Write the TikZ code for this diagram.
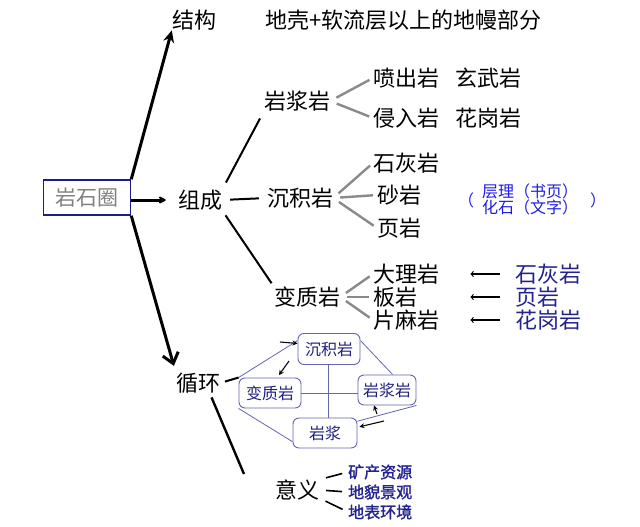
\documentclass[tikz,border=0pt]{standalone}
\usepackage{fontspec}
\setmainfont{Noto Sans CJK SC}
\newfontfamily\heavycjk[FakeBold=1.6]{Noto Sans CJK SC}
\usetikzlibrary{arrows,arrows.meta}
\definecolor{framenavy}{HTML}{1C1C8C}
\definecolor{labelgray}{HTML}{808080}
\definecolor{notenavy}{HTML}{1A1AE6}
\definecolor{rocknavy}{HTML}{23238F}
\definecolor{cyclenavy}{HTML}{6464B0}
\definecolor{cycletext}{HTML}{20207F}
\definecolor{branchgray}{HTML}{8A8A8A}

\tikzset{
    word/.style = {inner sep = 0pt, font = \fontsize{22}{24}\selectfont},
    smallword/.style = {inner sep = 0pt, font = \fontsize{16}{18}\selectfont},
    rockbox/.style = {draw = framenavy, line width = 1.5pt, text = labelgray, minimum width = 87pt, minimum height = 35pt, inner sep = 0pt, font = \fontsize{21}{24}\selectfont},
    cyclebox/.style = {draw = cyclenavy, line width = 0.9pt, rounded corners = 6pt, text = cycletext, minimum height = 30pt, inner sep = 0pt, font = \fontsize{16}{18}\selectfont},
    mainline/.style = {line width = 2pt, shorten < = 8pt, shorten > = 8pt},
    bigarrow/.style = {line width = 3pt},
    branch/.style = {draw = branchgray, line width = 2.4pt, shorten < = 7pt, shorten > = 4pt},
    cycleline/.style = {draw = cyclenavy, line width = 0.8pt},
    tinyarrow/.style = {-{Stealth[length = 5pt, width = 5pt]}, line width = 1.1pt, draw = black!85!framenavy}
}

\begin{document}
\begin{tikzpicture}[x = 1pt, y = -1pt]
        \def\branchx{373};
        \def\sourcex{515};
        \useasboundingbox (0,0) rectangle (640,527);

        % left box and main headings
        \node[rockbox] (lith) at (87, 197.5){岩石圈};
        \node[word] (struct) at (194, 20){结构};
        \node[word, anchor = west] (structdesc) at (265, 20){地壳+软流层以上的地幔部分};
        \node[word] (comp) at (200, 200){组成};
        \node[word] (cycle) at (198, 383){循环};
        \node[word] (meaning) at (297, 490){意义};

        \draw[bigarrow, -{Stealth[length = 12pt, width = 11pt]}] (lith.north east) -- (struct.south west);
        \draw[bigarrow, -{Stealth[length = 9pt, width = 9pt, round]}, shorten > = 12pt] (lith.east |- comp) -- (comp.west);
        \draw[bigarrow, -{Straight Barb[length = 10pt, width = 16pt]}, shorten > = 7pt] (lith.south east) -- (cycle.north west);

        % composition
        \node[word] (igneous) at (297, 101){岩浆岩};
        \node[word] (sediment) at (300, 198){沉积岩};
        \node[word] (meta) at (307, 297){变质岩};

        \draw[mainline] (comp.north east) -- (igneous.south west);
        \draw[mainline] (comp.east) -- (sediment.west);
        \draw[mainline, shorten < = 6pt, shorten > = 4pt] (comp.south east) -- (meta.north west);

        \node[word, anchor = west] (extrusive) at (\branchx, 78){喷出岩};
        \node[word, anchor = west] (basalt) at (455, 78){玄武岩};
        \node[word, anchor = west] (intrusive) at (\branchx, 118){侵入岩};
        \node[word, anchor = west] (granite) at (455, 118){花岗岩};
        \draw[branch] (igneous.east) -- (extrusive.west);
        \draw[branch] (igneous.east) -- (intrusive.west);

        \node[word, anchor = west] (limestone) at (\branchx, 163){石灰岩};
        \node[word, anchor = west] (sandstone) at (377, 195){砂岩};
        \node[word, anchor = west] (shale) at (377, 228){页岩};
        \draw[branch] (sediment.east) -- (limestone.west);
        \draw[branch] (sediment.east) -- (sandstone.west);
        \draw[branch] (sediment.east) -- (shale.west);

        \node[smallword, text = notenavy] (noteopen) at (466, 200){（};
        \node[smallword, text = notenavy, align = center] (note) at (530, 199){层理（书页）\\[-2pt]化石（文字）};
        \node[smallword, text = notenavy] (noteclose) at (598, 200){）};

        \node[word, anchor = west] (marble) at (\branchx, 274){大理岩};
        \node[word, anchor = west] (slate) at (\branchx, 297){板岩};
        \node[word, anchor = west] (gneiss) at (\branchx, 320){片麻岩};
        \draw[branch] (meta.east) -- (marble.west);
        \draw[branch] (meta.east) -- (slate.west);
        \draw[branch] (meta.east) -- (gneiss.west);

        \node[word, anchor = west, text = rocknavy] (srclime) at (\sourcex, 274){石灰岩};
        \node[word, anchor = west, text = rocknavy] (srcshale) at (\sourcex, 297){页岩};
        \node[word, anchor = west, text = rocknavy] (srcgranite) at (\sourcex, 320){花岗岩};
        \draw[->, >=to, line width = 1.2pt, shorten < = 15pt, shorten > = 31pt] (srclime.west) -- (marble.east);
        \draw[->, >=to, line width = 1.2pt, shorten < = 15pt, shorten > = 31pt] (srcshale.west) -- (srcshale.west -| marble.east);
        \draw[->, >=to, line width = 1.2pt, shorten < = 15pt, shorten > = 31pt] (srcgranite.west) -- (gneiss.east);

        % rock cycle
        \node[cyclebox, minimum width = 62pt, minimum height = 31pt] (csed) at (329, 349){沉积岩};
        \node[cyclebox, minimum width = 62pt] (cmeta) at (270, 393){变质岩};
        \node[cyclebox, minimum width = 58pt] (cign) at (387, 390){岩浆岩};
        \node[cyclebox, minimum width = 64pt] (cmagma) at (325, 433){岩浆};

        \draw[cycleline] (csed.south -| 328, 0) -- (cmagma.north -| 328, 0);
        \draw[cycleline] (cmeta.east) -- (cmeta.east -| cign.west);
        \draw[cycleline] (csed.165) -- (cmeta.north west);
        \draw[cycleline] (csed.15) -- (cign.70);
        \draw[cycleline] (cmagma.20) -- (cign.south east);
        \draw[cycleline] (cmeta.south west) -- (cmagma.195);

        \coordinate (tailA) at (280, 342);
        \coordinate (tailB) at (289, 361);
        \coordinate (tailC) at (377, 414);
        \coordinate (tailD) at (384, 421);
        \draw[tinyarrow] (tailA) -- (csed.170);
        \draw[tinyarrow, shorten > = 3pt] (tailB) -- (cmeta.65);
        \draw[tinyarrow] (tailC) -- (cign.230);
        \draw[tinyarrow, shorten > = 2pt] (tailD) -- (cmagma.10);

        \draw[line width = 2pt, shorten < = 5pt] (cycle.east) -- (cmeta.north west);
        \coordinate (meaningtail) at (244, 474);
        \draw[line width = 2.4pt] (cycle.-62) ++(8, 4) -- (meaningtail);

        % significance
        \node[smallword, anchor = west, text = rocknavy, font = \heavycjk\fontsize{16}{18}\selectfont] (mineral) at (348, 472){矿产资源};
        \node[smallword, anchor = west, text = rocknavy, font = \heavycjk\fontsize{16}{18}\selectfont] (landform) at (348, 492){地貌景观};
        \node[smallword, anchor = west, text = rocknavy, font = \heavycjk\fontsize{16}{18}\selectfont] (surface) at (348, 512){地表环境};
        \draw[line width = 1.6pt, shorten < = 7pt, shorten > = 6pt] (meaning.north east) -- (mineral.west);
        \draw[line width = 1.6pt, shorten < = 7pt, shorten > = 6pt] (meaning.east) -- (landform.west);
        \draw[line width = 1.6pt, shorten < = 7pt, shorten > = 6pt] (meaning.-20) -- (surface.west);
    \end{tikzpicture}
\end{document}
